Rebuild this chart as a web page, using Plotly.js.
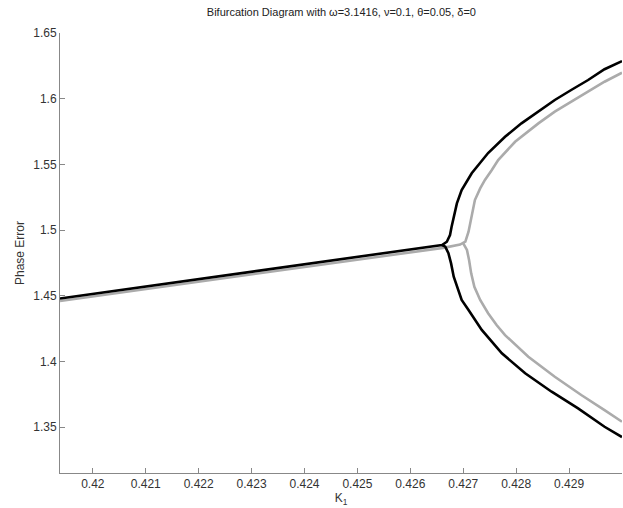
<!DOCTYPE html>
<html>
<head>
<meta charset="utf-8">
<script src="https://cdn.plot.ly/plotly-3.0.1.min.js"></script>
<style>html,body{margin:0;padding:0;background:#fff;}#chart{width:623px;height:508px;}</style>
</head>
<body>
<div id="chart"></div>
<script>
// Black curve: stable branch before bifurcation then upper branch
const blackUpperK = [0.41938, 0.42660, 0.42669, 0.42675, 0.42678, 0.42682, 0.42688, 0.42697, 0.42707, 0.42716, 0.42747, 0.42779, 0.42810, 0.42842, 0.42873, 0.42904, 0.42936, 0.42967, 0.43000];
const blackUpperE = [1.4478, 1.4886, 1.4911, 1.4962, 1.5025, 1.5101, 1.5203, 1.5305, 1.5368, 1.5432, 1.5586, 1.5710, 1.5812, 1.5901, 1.5990, 1.6066, 1.6142, 1.6224, 1.6286];
// Black lower branch
const blackLowerK = [0.42660, 0.42666, 0.42672, 0.42677, 0.42682, 0.42688, 0.42697, 0.42710, 0.42722, 0.42735, 0.42773, 0.42817, 0.42867, 0.42917, 0.42967, 0.43000];
const blackLowerE = [1.4886, 1.4873, 1.4823, 1.4746, 1.4644, 1.4568, 1.4467, 1.4391, 1.4315, 1.4239, 1.4061, 1.3909, 1.3769, 1.3642, 1.3502, 1.3424];
// Grey curve: stable branch then upper branch
const greyUpperK = [0.41938, 0.42665, 0.42694, 0.42700, 0.42704, 0.42710, 0.42713, 0.42716, 0.42722, 0.42732, 0.42741, 0.42754, 0.42766, 0.42798, 0.42842, 0.42873, 0.42904, 0.42936, 0.42967, 0.43000];
const greyUpperE = [1.4460, 1.4866, 1.4889, 1.4899, 1.4911, 1.4987, 1.5051, 1.5127, 1.5228, 1.5317, 1.5381, 1.5457, 1.5533, 1.5672, 1.5812, 1.5901, 1.5977, 1.6053, 1.6129, 1.6198];
// Grey lower branch
const greyLowerK = [0.42700, 0.42707, 0.42711, 0.42715, 0.42721, 0.42732, 0.42747, 0.42763, 0.42779, 0.42823, 0.42873, 0.42923, 0.42967, 0.43000];
const greyLowerE = [1.4899, 1.4848, 1.4772, 1.4670, 1.4568, 1.4467, 1.4366, 1.4277, 1.4200, 1.4035, 1.3883, 1.3744, 1.3629, 1.3540];

const xTicks = [0.420, 0.421, 0.422, 0.423, 0.424, 0.425, 0.426, 0.427, 0.428, 0.429];
const xTickText = ['0.42', '0.421', '0.422', '0.423', '0.424', '0.425', '0.426', '0.427', '0.428', '0.429'];
const yTicks = [1.35, 1.40, 1.45, 1.50, 1.55, 1.60, 1.65];
const yTickText = ['1.35', '1.4', '1.45', '1.5', '1.55', '1.6', '1.65'];

const grey = '#ababab';
const black = '#000000';
const lw = 2.6;
function tr(x, y, c) {
  return {x: x, y: y, type: 'scatter', mode: 'lines', line: {color: c, width: lw, shape: 'linear'}, hoverinfo: 'skip', showlegend: false};
}
const data = [
  tr(greyUpperK, greyUpperE, grey),
  tr(greyLowerK, greyLowerE, grey),
  tr(blackUpperK, blackUpperE, black),
  tr(blackLowerK, blackLowerE, black)
];
const fnt = {family: 'Liberation Sans, Arial, sans-serif', size: 12, color: '#333'};
const layout = {
  width: 623, height: 508,
  margin: {l: 60, r: 1, t: 33, b: 35},
  paper_bgcolor: '#fff', plot_bgcolor: '#fff',
  font: fnt,
  title: {text: 'Bifurcation Diagram with \u03c9=3.1416, \u03bd=0.1, \u03b8=0.05, \u03b4=0', font: {family: fnt.family, size: 11, color: '#222'}, x: 0.548, xanchor: 'center', y: 0.976, yanchor: 'middle'},
  xaxis: {
    range: [0.41938, 0.43], tickvals: xTicks, ticktext: xTickText,
    ticks: 'inside', ticklen: 5, tickcolor: '#888', showline: true, linecolor: '#888', linewidth: 1,
    showgrid: false, zeroline: false, mirror: false,
    title: {text: 'K<sub>1</sub>', font: {family: fnt.family, size: 12, color: '#333'}, standoff: 2}
  },
  yaxis: {
    range: [1.315, 1.65], tickvals: yTicks, ticktext: yTickText,
    ticks: 'inside', ticklen: 5, tickcolor: '#888', showline: true, linecolor: '#888', linewidth: 1,
    showgrid: false, zeroline: false, mirror: false,
    title: {text: 'Phase Error', font: {family: fnt.family, size: 12, color: '#333'}, standoff: 6}
  }
};
Plotly.newPlot('chart', data, layout, {staticPlot: true, displayModeBar: false});
</script>
</body>
</html>
